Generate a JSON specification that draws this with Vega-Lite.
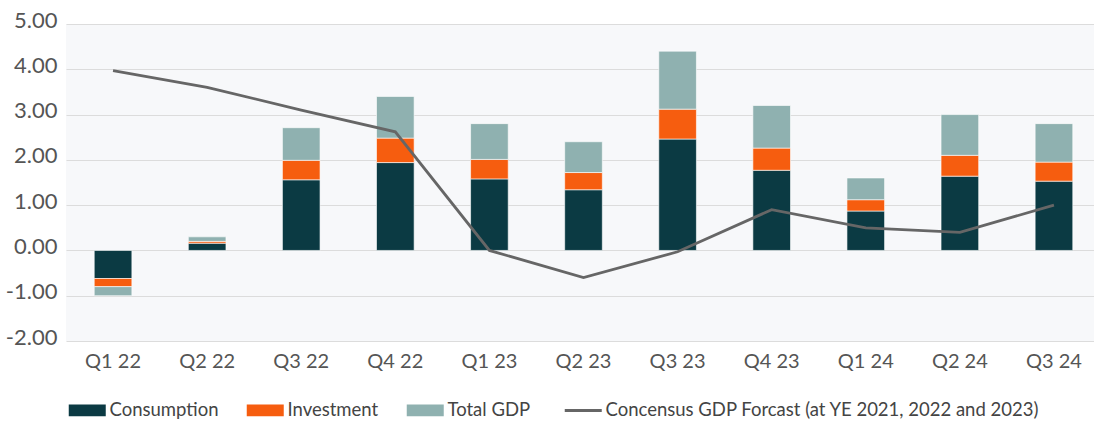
{
  "$schema": "https://vega.github.io/schema/vega-lite/v6.json",
  "autosize": {"type": "none"},
  "width": 1035,
  "height": 317,
  "padding": {"left": 66, "top": 24, "right": 0, "bottom": 80},
  "background": "white",
  "config": {
    "font": "Lato",
    "view": {"fill": "#f7f8fa", "stroke": null},
    "axis": {"labelFont": "Lato", "labelColor": "#555555", "domain": false, "ticks": false, "title": null},
    "legend": {"labelFont": "Lato"}
  },
  "datasets": {
    "bars": [
      {"q": "Q1 22", "series": "Consumption", "value": -0.62},
      {"q": "Q1 22", "series": "Investment", "value": -0.18},
      {"q": "Q1 22", "series": "Total GDP", "value": -0.20},
      {"q": "Q2 22", "series": "Consumption", "value": 0.16},
      {"q": "Q2 22", "series": "Investment", "value": 0.04},
      {"q": "Q2 22", "series": "Total GDP", "value": 0.10},
      {"q": "Q3 22", "series": "Consumption", "value": 1.56},
      {"q": "Q3 22", "series": "Investment", "value": 0.43},
      {"q": "Q3 22", "series": "Total GDP", "value": 0.72},
      {"q": "Q4 22", "series": "Consumption", "value": 1.94},
      {"q": "Q4 22", "series": "Investment", "value": 0.54},
      {"q": "Q4 22", "series": "Total GDP", "value": 0.92},
      {"q": "Q1 23", "series": "Consumption", "value": 1.58},
      {"q": "Q1 23", "series": "Investment", "value": 0.43},
      {"q": "Q1 23", "series": "Total GDP", "value": 0.79},
      {"q": "Q2 23", "series": "Consumption", "value": 1.34},
      {"q": "Q2 23", "series": "Investment", "value": 0.38},
      {"q": "Q2 23", "series": "Total GDP", "value": 0.68},
      {"q": "Q3 23", "series": "Consumption", "value": 2.46},
      {"q": "Q3 23", "series": "Investment", "value": 0.66},
      {"q": "Q3 23", "series": "Total GDP", "value": 1.28},
      {"q": "Q4 23", "series": "Consumption", "value": 1.77},
      {"q": "Q4 23", "series": "Investment", "value": 0.49},
      {"q": "Q4 23", "series": "Total GDP", "value": 0.94},
      {"q": "Q1 24", "series": "Consumption", "value": 0.87},
      {"q": "Q1 24", "series": "Investment", "value": 0.25},
      {"q": "Q1 24", "series": "Total GDP", "value": 0.48},
      {"q": "Q2 24", "series": "Consumption", "value": 1.64},
      {"q": "Q2 24", "series": "Investment", "value": 0.46},
      {"q": "Q2 24", "series": "Total GDP", "value": 0.90},
      {"q": "Q3 24", "series": "Consumption", "value": 1.53},
      {"q": "Q3 24", "series": "Investment", "value": 0.42},
      {"q": "Q3 24", "series": "Total GDP", "value": 0.85}
    ],
    "line": [
      {"q": "Q1 22", "series": "Concensus GDP Forcast (at YE 2021, 2022 and 2023)", "value": 3.97},
      {"q": "Q2 22", "series": "Concensus GDP Forcast (at YE 2021, 2022 and 2023)", "value": 3.6},
      {"q": "Q3 22", "series": "Concensus GDP Forcast (at YE 2021, 2022 and 2023)", "value": 3.1},
      {"q": "Q4 22", "series": "Concensus GDP Forcast (at YE 2021, 2022 and 2023)", "value": 2.62},
      {"q": "Q1 23", "series": "Concensus GDP Forcast (at YE 2021, 2022 and 2023)", "value": 0.0},
      {"q": "Q2 23", "series": "Concensus GDP Forcast (at YE 2021, 2022 and 2023)", "value": -0.6},
      {"q": "Q3 23", "series": "Concensus GDP Forcast (at YE 2021, 2022 and 2023)", "value": -0.03},
      {"q": "Q4 23", "series": "Concensus GDP Forcast (at YE 2021, 2022 and 2023)", "value": 0.9},
      {"q": "Q1 24", "series": "Concensus GDP Forcast (at YE 2021, 2022 and 2023)", "value": 0.5},
      {"q": "Q2 24", "series": "Concensus GDP Forcast (at YE 2021, 2022 and 2023)", "value": 0.4},
      {"q": "Q3 24", "series": "Concensus GDP Forcast (at YE 2021, 2022 and 2023)", "value": 1.0}
    ]
  },
  "encoding": {
    "x": {
      "field": "q", "type": "nominal", "sort": null,
      "scale": {"paddingInner": 0.6, "paddingOuter": 0.3},
      "axis": {"labelAngle": 0, "labelFontSize": 20, "labelPadding": 10, "grid": false}
    },
    "y": {
      "field": "value", "type": "quantitative",
      "scale": {"domain": [-2, 5], "nice": false, "zero": false},
      "axis": {
        "labelExpr": "replace(format(datum.value, '.2f'), '\u2212', '-')",
        "values": [-2, -1, 0, 1, 2, 3, 4, 5], "labelFontSize": 22, "labelPadding": 9, "labelOffset": -4,
        "gridColor": "#dcdcdc", "gridWidth": 1.2
      }
    },
    "color": {
      "field": "series", "type": "nominal",
      "scale": {
        "domain": ["Consumption", "Investment", "Total GDP", "Concensus GDP Forcast (at YE 2021, 2022 and 2023)"],
        "range": ["#0b3a43", "#f65d0f", "#8fb1b0", "#666666"]
      },
      "legend": {
        "title": null, "orient": "none", "direction": "horizontal",
        "legendX": 12, "legendY": 377,
        "labelFontSize": 18.5, "labelColor": "#444444", "labelOffset": 13, "labelLimit": 600,
        "columnPadding": 27, "symbolSize": 1369, "symbolStrokeWidth": 0,
        "encode": {
          "symbols": {
            "update": {
              "shape": {"signal": "datum.value === 'Concensus GDP Forcast (at YE 2021, 2022 and 2023)' ? 'M-1,0H1' : 'M-1,-0.32H1V0.32H-1Z'"},
              "fill": {"signal": "datum.value === 'Concensus GDP Forcast (at YE 2021, 2022 and 2023)' ? 'transparent' : scale('color', datum.value)"},
              "stroke": {"signal": "datum.value === 'Concensus GDP Forcast (at YE 2021, 2022 and 2023)' ? '#666666' : 'transparent'"},
              "strokeWidth": {"signal": "datum.value === 'Concensus GDP Forcast (at YE 2021, 2022 and 2023)' ? 3 : 0"},
              "opacity": {"value": 1}
            }
          }
        }
      }
    }
  },
  "layer": [
    {
      "data": {"name": "bars"},
      "mark": {"type": "bar", "stroke": "#ffffff", "strokeOpacity": 0.6, "strokeWidth": 1},
      "encoding": {
        "order": {"field": "series", "sort": "ascending"}
      }
    },
    {
      "data": {"name": "line"},
      "mark": {"type": "line", "strokeWidth": 2.8, "interpolate": "linear"},
      "encoding": {}
    }
  ]
}
